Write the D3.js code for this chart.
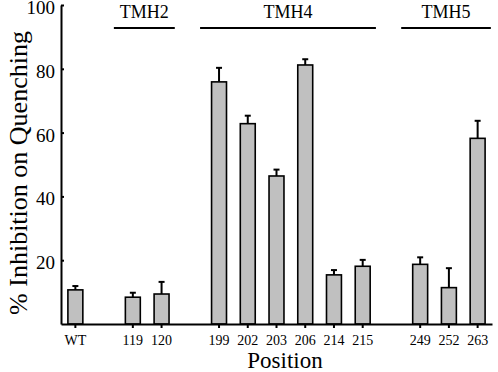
<!DOCTYPE html>
<html>
<head>
<meta charset="utf-8">
<script src="https://cdn.jsdelivr.net/npm/d3@7"></script>
<style>
  body { margin: 0; background: #fff; }
  svg { display: block; }
</style>
</head>
<body>
<div id="chart"></div>
<script>
// positions along the protein, slots include gaps between helices
const slots = ["WT", "_a", "119", "120", "_b", "199", "202", "203", "206", "214", "215", "_c", "249", "252", "263"];
const positions = ["WT", "119", "120", "199", "202", "203", "206", "214", "215", "249", "252", "263"];
const means = [10.7, 8.4, 9.4, 75.9, 62.8, 46.4, 81.2, 15.4, 18.1, 18.7, 11.4, 58.2];
const errors = [1.2, 1.4, 3.8, 4.4, 2.5, 2.0, 1.8, 1.5, 2.0, 2.2, 6.1, 5.5];
const groupNames = ["TMH2", "TMH4", "TMH5"];
const groupFirst = ["119", "199", "249"];
const groupLast = ["120", "215", "263"];
const yTicks = [20, 40, 60, 80, 100];

const width = 498;
const height = 372;
const mLeft = 61, mRight = 492, mTop = 5, mBottom = 324;
const serif = "Liberation Serif";

const svg = d3.select("#chart").append("svg")
    .attr("width", width)
    .attr("height", height)
    .attr("font-family", serif);

const x = d3.scaleBand()
    .domain(slots)
    .range([mLeft, mRight])
    .paddingInner(0.48)
    .paddingOuter(0.24);

const y = d3.scaleLinear()
    .domain([0, 100])
    .range([mBottom, mTop]);

const data = positions.map((p, i) => ({ pos: p, mean: means[i], err: errors[i] }));

// error bars (drawn first so the bar outline sits on top)
const eb = svg.append("g").attr("stroke", "#000").attr("stroke-width", 2);
data.forEach(d => {
    const cx = x(d.pos) + x.bandwidth() / 2;
    eb.append("line")
        .attr("x1", cx).attr("x2", cx)
        .attr("y1", y(d.mean)).attr("y2", y(d.mean + d.err));
    eb.append("line")
        .attr("x1", cx - 3).attr("x2", cx + 3)
        .attr("y1", y(d.mean + d.err)).attr("y2", y(d.mean + d.err));
});

// bars
svg.append("g")
    .selectAll("rect")
    .data(data)
    .enter()
    .append("rect")
    .attr("x", d => x(d.pos))
    .attr("y", d => y(d.mean))
    .attr("width", x.bandwidth())
    .attr("height", d => y(0) - y(d.mean))
    .attr("fill", "#c0c0c0")
    .attr("stroke", "#000")
    .attr("stroke-width", 1.6);

// x axis
const xAxis = svg.append("g")
    .attr("transform", `translate(0,${mBottom})`)
    .call(d3.axisBottom(x).tickValues(positions).tickSize(4).tickSizeOuter(0));
xAxis.attr("font-family", serif);
xAxis.select(".domain").attr("stroke-width", 2);
xAxis.selectAll(".tick line").attr("stroke-width", 2);
xAxis.selectAll(".tick text")
    .attr("font-family", serif)
    .attr("font-size", 14)
    .attr("fill", "#000")
    .attr("y", 11);

// y axis
const yAxis = svg.append("g")
    .attr("transform", `translate(${mLeft},0)`)
    .call(d3.axisLeft(y).tickValues(yTicks).tickSize(-3).tickSizeOuter(0));
yAxis.attr("font-family", serif);
yAxis.select(".domain").attr("stroke-width", 2);
yAxis.selectAll(".tick line").attr("stroke-width", 2);
yAxis.selectAll(".tick text")
    .attr("font-family", serif)
    .attr("font-size", 19)
    .attr("fill", "#000")
    .attr("x", -6)
    .attr("dy", "0.45em");

// helix group labels
groupNames.forEach((g, i) => {
    const x0 = x(groupFirst[i]) - x.step() * 0.4;
    const x1 = x(groupLast[i]) + x.bandwidth() + x.step() * 0.2;
    svg.append("line")
        .attr("x1", x0).attr("x2", x1)
        .attr("y1", 28).attr("y2", 28)
        .attr("stroke", "#000")
        .attr("stroke-width", 2.2);
    svg.append("text")
        .attr("x", (x0 + x1) / 2)
        .attr("y", 18)
        .attr("text-anchor", "middle")
        .attr("font-family", serif)
        .attr("font-size", 18)
        .text(g);
});

// axis titles
svg.append("text")
    .attr("x", 285)
    .attr("y", 368)
    .attr("text-anchor", "middle")
    .attr("font-family", serif)
    .attr("font-size", 23)
    .text("Position");

svg.append("text")
    .attr("transform", "translate(27,173) rotate(-90)")
    .attr("text-anchor", "middle")
    .attr("font-family", serif)
    .attr("font-size", 26)
    .text("% Inhibition on Quenching");
</script>
</body>
</html>
